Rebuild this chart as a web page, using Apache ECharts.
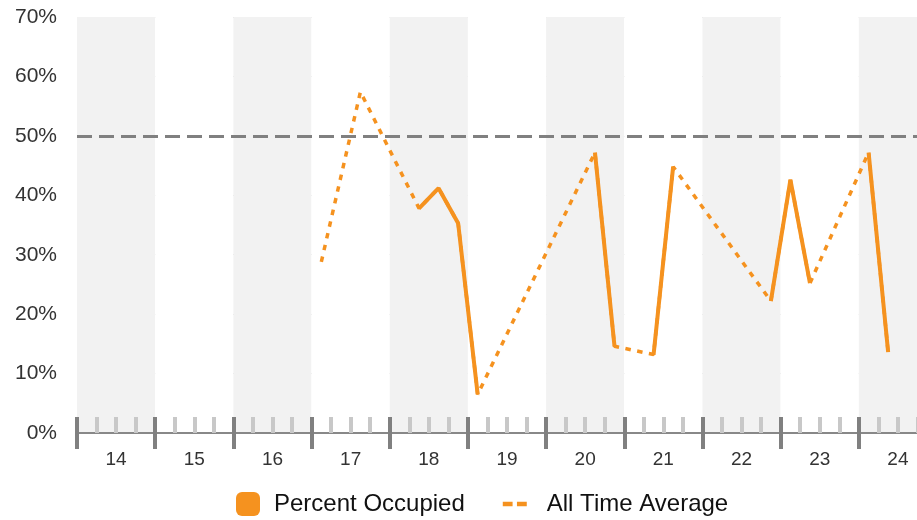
<!DOCTYPE html>
<html>
<head>
<meta charset="utf-8">
<script src="https://cdn.jsdelivr.net/npm/echarts@6/dist/echarts.min.js"></script>
<style>
  html, body { margin: 0; padding: 0; background: #fff; }
  #chart { width: 917px; height: 520px; }
</style>
</head>
<body>
<div id="chart"></div>
<script>
// day labels on the x axis (each band is one day)
var days = [14, 15, 16, 17, 18, 19, 20, 21, 22, 23, 24];
// readings: day, quarter of the day (0..3), percent occupied
var readingDay = [17, 17, 18, 18, 18, 19, 20, 20, 21, 21, 22, 23, 23, 24, 24];
var readingQuarter = [0, 2, 1, 2, 3, 0, 2, 3, 1, 2, 3, 0, 1, 0, 1];
var occupied = [28.8, 57.4, 37.8, 41.2, 35.3, 6.5, 47.2, 14.6, 13.2, 44.8, 22.2, 42.6, 25.2, 47.2, 13.6];
var averageLevel = 50;
var yMax = 70;
var yStep = 10;

var ORANGE = '#F5921F';
var FONT = '"Liberation Sans", Arial, Helvetica, sans-serif';

// solid line breaks where a quarter is missing, dotted one bridges the gaps
var solidData = [];
var bridgeData = [];
for (var i = 0; i < occupied.length; i++) {
  var slot = readingDay[i] * 4 + readingQuarter[i];
  var x = readingDay[i] + (readingQuarter[i] + 0.5) / 4;
  if (i > 0) {
    var prevSlot = readingDay[i - 1] * 4 + readingQuarter[i - 1];
    if (slot - prevSlot > 1) solidData.push([x - 0.01, null]);
  }
  solidData.push([x, occupied[i]]);
  bridgeData.push([x, occupied[i]]);
}

var firstDay = days[0];
var lastDay = days[days.length - 1] + 1;

var chart = echarts.init(document.getElementById('chart'), null, { renderer: 'canvas' });
chart.setOption({
  animation: false,
  textStyle: { fontFamily: FONT },
  // the last day band runs past the right edge of the picture
  grid: { left: 77, right: -20, top: 17, bottom: 87, outerBoundsMode: 'none', containLabel: false },
  legend: {
    left: 231,
    top: 487,
    itemWidth: 24,
    itemHeight: 24,
    itemGap: 38,
    textStyle: { fontSize: 24, color: '#111', fontFamily: FONT, padding: [0, 0, 0, 9] },
    data: [
      { name: 'Percent Occupied', icon: 'roundRect' },
      { name: 'All Time Average', icon: 'path://M0,0h9v4h-9z M13,0h9v4h-9z',
        textStyle: { fontSize: 24, color: '#111', fontFamily: FONT, padding: [0, 0, 0, 15] } }
    ]
  },
  xAxis: [
    {
      type: 'value',
      min: firstDay,
      max: lastDay,
      interval: 0.25,
      axisLine: { show: true, lineStyle: { color: '#888', width: 2 } },
      axisTick: { show: true, inside: true, length: 16, lineStyle: { color: '#c8c8c8', width: 4 } },
      axisLabel: {
        fontSize: 19,
        color: '#333',
        margin: 17,
        formatter: function (v) {
          return Math.abs(v - Math.floor(v) - 0.5) < 1e-6 ? String(Math.floor(v)) : '';
        }
      },
      splitLine: { show: false }
    },
    {
      type: 'value',
      min: firstDay,
      max: lastDay,
      interval: 1,
      position: 'bottom',
      offset: -16,
      axisLine: { show: false },
      axisTick: { show: true, inside: false, length: 32, lineStyle: { color: '#808080', width: 4 } },
      axisLabel: { show: false },
      splitLine: { show: false },
      splitArea: { show: true, areaStyle: { color: ['#f2f2f2', '#ffffff'] } }
    }
  ],
  yAxis: {
    type: 'value',
    min: 0,
    max: yMax,
    interval: yStep,
    axisLine: { show: false },
    axisTick: { show: false },
    axisLabel: { fontSize: 21, color: '#333', margin: 20, formatter: '{value}%' },
    splitLine: { lineStyle: { color: '#d2d2d2', width: 1 } }
  },
  series: [
    {
      name: 'All Time Average',
      type: 'line',
      xAxisIndex: 0,
      data: bridgeData,
      showSymbol: false,
      connectNulls: true,
      z: 2,
      itemStyle: { color: ORANGE },
      lineStyle: { color: ORANGE, width: 3.5, type: [5.5, 6.5] }
    },
    {
      name: 'Percent Occupied',
      type: 'line',
      xAxisIndex: 0,
      data: solidData,
      showSymbol: false,
      connectNulls: false,
      z: 3,
      itemStyle: { color: ORANGE },
      lineStyle: { color: ORANGE, width: 4 },
      markLine: {
        silent: true,
        symbol: 'none',
        label: { show: false },
        lineStyle: { color: '#808080', width: 3, type: [15, 7] },
        data: [{ yAxis: averageLevel }]
      }
    }
  ]
});
</script>
</body>
</html>
